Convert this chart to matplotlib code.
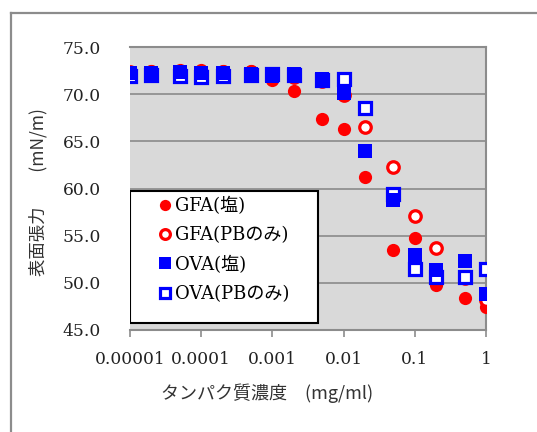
import matplotlib
matplotlib.use("Agg")
import matplotlib.pyplot as plt
from matplotlib.lines import Line2D
from matplotlib.patches import Rectangle
import numpy as np

conc = [1e-5, 2e-5, 5e-5, 1e-4, 2e-4, 5e-4, 1e-3, 2e-3, 5e-3, 1e-2, 2e-2, 5e-2, 0.1, 0.2, 0.5, 1.0]
gfa_salt = [72.4, 72.5, 72.6, 72.6, 72.5, 72.5, 71.5, 70.3, 67.4, 66.3, 61.2, 53.5, 54.7, 49.8, 48.4, 47.4]
gfa_pb   = [72.3, 72.3, 72.4, 72.4, 72.3, 72.3, 71.7, 71.8, 71.4, 69.9, 66.5, 62.3, 57.1, 53.7, 50.5, 48.2]
ova_salt = [72.2, 72.2, 72.3, 72.2, 72.2, 72.1, 71.9, 72.1, 71.6, 70.1, 64.0, 58.8, 52.9, 51.4, 52.3, 48.8]
ova_pb   = [71.9, 72.0, 71.9, 71.8, 71.9, 72.0, 72.1, 72.0, 71.5, 71.6, 68.5, 59.4, 51.5, 50.6, 50.6, 51.5]

labels = ["GFA(塩)", "GFA(PBのみ)", "OVA(塩)", "OVA(PBのみ)"]
xticks = [1e-5, 1e-4, 1e-3, 1e-2, 1e-1, 1]
xticklabels = ["0.00001", "0.0001", "0.001", "0.01", "0.1", "1"]
yticks = [45, 50, 55, 60, 65, 70, 75]

RED = "#FF0000"
BLUE = "#0000FF"
SERIF = ["DejaVu Serif", "Noto Sans CJK JP"]
CJK = ["Noto Sans CJK JP", "DejaVu Sans"]

fig = plt.figure(figsize=(5.37, 4.32), dpi=100)
W, H = 537, 432
ax = fig.add_axes([130 / W, 1 - 330 / H, (486 - 130) / W, (330 - 47) / H])
ax.set_facecolor("#D9D9D9")

# outer chart border (left and top visible)
fig.add_artist(Line2D([10.5 / W, 10.5 / W], [0, 1 - 12.5 / H], transform=fig.transFigure,
                      color="#8C8C8C", lw=1.6))
fig.add_artist(Line2D([10.5 / W, 1], [1 - 12.5 / H, 1 - 12.5 / H], transform=fig.transFigure,
                      color="#8C8C8C", lw=1.6))

ms_c = 9.5
ms_s = 10.0
ax.plot(conc, gfa_salt, linestyle="none", marker="o", ms=ms_c, mfc=RED, mec=RED, mew=0,
        label=labels[0], zorder=3)
ax.plot(conc, gfa_pb, linestyle="none", marker="o", ms=ms_c - 1.2, mfc="white", mec=RED, mew=2.3,
        label=labels[1], zorder=4)
ax.plot(conc, ova_salt, linestyle="none", marker="s", ms=ms_s, mfc=BLUE, mec=BLUE, mew=0,
        label=labels[2], zorder=5)
ax.plot(conc, ova_pb, linestyle="none", marker="s", ms=ms_s - 1.5, mfc="white", mec=BLUE, mew=2.3,
        label=labels[3], zorder=4.5)

ax.set_xscale("log")
ax.set_xlim(1e-5, 1)
ax.set_ylim(45, 75)
ax.set_xticks(xticks)
ax.set_xticklabels(xticklabels)
ax.xaxis.set_minor_locator(matplotlib.ticker.NullLocator())
ax.set_yticks(yticks)
ax.set_yticklabels([f"{v:.1f}" for v in yticks])

for lab in ax.get_xticklabels() + ax.get_yticklabels():
    lab.set_fontfamily(SERIF)
    lab.set_fontsize(12.3)
    lab.set_color("#222222")

ax.tick_params(axis="y", length=0, pad=21)
ax.tick_params(axis="x", length=5, width=1.2, color="#8C8C8C", pad=10, direction="out")

ax.grid(axis="y", color="#8A8A8A", lw=1.2)
ax.set_axisbelow(True)
ax.spines["left"].set_visible(False)
for s in ["top", "right", "bottom"]:
    ax.spines[s].set_color("#8C8C8C")
    ax.spines[s].set_linewidth(1.5)

# axis titles
fig.text(267 / W, 1 - 393 / H, "タンパク質濃度　(mg/ml)", fontfamily=CJK, fontsize=13,
         color="#333333", ha="center", va="center")
fig.text(38 / W, 1 - 192 / H, "表面張力　　(mN/m)", fontfamily=CJK, fontsize=12.5,
         color="#333333", ha="center", va="center", rotation=90)

# legend box
box = Rectangle((0.0, (330 - 323) / 283), (318 - 130) / 356, (323 - 191) / 283,
                transform=ax.transAxes, facecolor="white", edgecolor="black", lw=1.5, zorder=9)
ax.add_patch(box)
leg = ax.legend(loc="upper left", bbox_to_anchor=((158 - 130) / 356, (330 - 197) / 283),
                borderaxespad=0, frameon=False, handlelength=0.8,
                handletextpad=0.15, labelspacing=0.62, borderpad=0,
                prop={"family": SERIF, "size": 13}, markerscale=0.85)
leg.set_zorder(10)

fig.savefig("out.png", dpi=100, facecolor="white")
